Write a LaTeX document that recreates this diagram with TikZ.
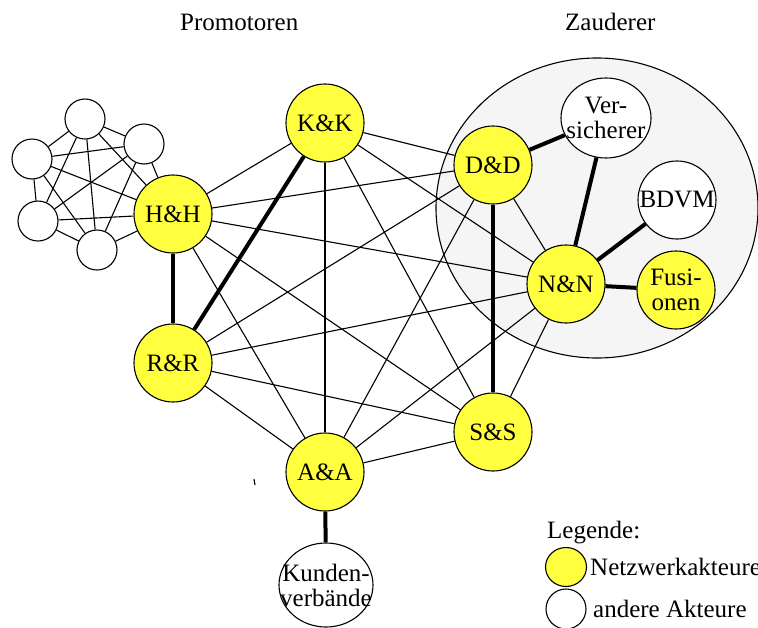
\documentclass[tikz,border=0pt]{standalone}
\usepackage{fontspec}
\setmainfont{Liberation Serif}
\usetikzlibrary{shapes.geometric}
\definecolor{netyellow}{RGB}{255,255,64}
\definecolor{zgray}{RGB}{245,245,245}
\tikzset{
  actor/.style={circle, draw, line width=1.1pt, minimum size=78pt, inner sep=0pt},
  netz/.style={actor, fill=netyellow},
  other/.style={actor, fill=white},
  small/.style={circle, draw, line width=1.1pt, fill=white, minimum size=40pt, inner sep=0pt},
  lbl/.style={font=\fontsize{25}{25}\selectfont, align=center, inner sep=0pt},
  thin/.style={line width=1.1pt},
  thick/.style={line width=4pt},
  txt/.style={font=\fontsize{25}{25}\selectfont, inner sep=0pt},
}
\begin{document}
\begin{tikzpicture}[x=1pt,y=-1pt]
\useasboundingbox (0,0) rectangle (758,627);
% Zauderer region
\draw[line width=1.1pt, fill=zgray] (597,208) ellipse [x radius=161, y radius=150];
% titles
\node[txt, anchor=base west] (tprom) at (180,30) {Promotoren};
\node[txt, anchor=base west] (tzaud) at (565,30) {Zauderer};
% main actors
\node[netz, label={[lbl]center:K\&K}] (kk) at (325,123) {};
\node[netz, label={[lbl]center:H\&H}] (hh) at (173,214) {};
\node[netz, label={[lbl]center:R\&R}] (rr) at (173,363) {};
\node[netz, label={[lbl]center:D\&D}] (dd) at (493,165) {};
\node[other, ellipse, minimum width=90pt, minimum height=80pt, label={[lbl]center:Ver-\\sicherer}] (ver) at (606,118) {};
\node[other, label={[lbl]center:BDVM}] (bdvm) at (677,200) {};
\node[netz, label={[lbl]center:N\&N}] (nn) at (566,284) {};
\node[netz, label={[lbl]center:Fusi-\\onen}] (fus) at (676,290) {};
\node[netz, label={[lbl]center:S\&S}] (ss) at (493,432) {};
\node[netz, label={[lbl]center:A\&A}] (aa) at (325,472) {};
\node[other, ellipse, minimum width=94pt, minimum height=84pt, label={[lbl]center:Kunden-\\verbände}] (kv) at (326,585) {};
% small network
\node[small] (s1) at (85,119) {};
\node[small] (s2) at (144,144) {};
\node[small] (s3) at (32,159) {};
\node[small] (s4) at (38,221) {};
\node[small] (s5) at (97,250) {};
\foreach \a/\b in {s1/s2,s1/s3,s1/s4,s1/s5,s1/hh,s2/s3,s2/s4,s2/s5,s2/hh,s3/s4,s3/s5,s3/hh,s4/s5,s4/hh,s5/hh}
  \draw[thin] (\a) -- (\b);
% thin edges
\foreach \a/\b in {kk/hh,kk/dd,kk/nn,kk/ss,kk/aa,hh/dd,hh/nn,hh/ss,hh/aa,rr/dd,rr/nn,rr/ss,rr/aa,aa/dd,aa/nn,aa/ss,ss/nn,dd/nn}
  \draw[thin] (\a) -- (\b);
% thick edges
\foreach \a/\b in {kk/rr,hh/rr,dd/ss,dd/ver,ver/nn,bdvm/nn,nn/fus,aa/kv}
  \draw[thick] (\a) -- (\b);
% stray tick
\coordinate (t1) at (254,479);
\coordinate (t2) at (255,485);
\draw[thin] (t1) -- (t2);
% legend
\node[txt, anchor=base west] (leg) at (547,538) {Legende:};
\node[ellipse, draw, line width=1.1pt, fill=netyellow, minimum width=41pt, minimum height=39pt, inner sep=0pt] (ly) at (566,567) {};
\node[txt, anchor=base west] (lyt) at (590,575) {Netzwerkakteure};
\node[circle, draw, line width=1.1pt, fill=white, minimum size=40pt, inner sep=0pt] (lw) at (566,609) {};
\node[txt, anchor=base west] (lwt) at (593,617) {andere Akteure};
\end{tikzpicture}
\end{document}
